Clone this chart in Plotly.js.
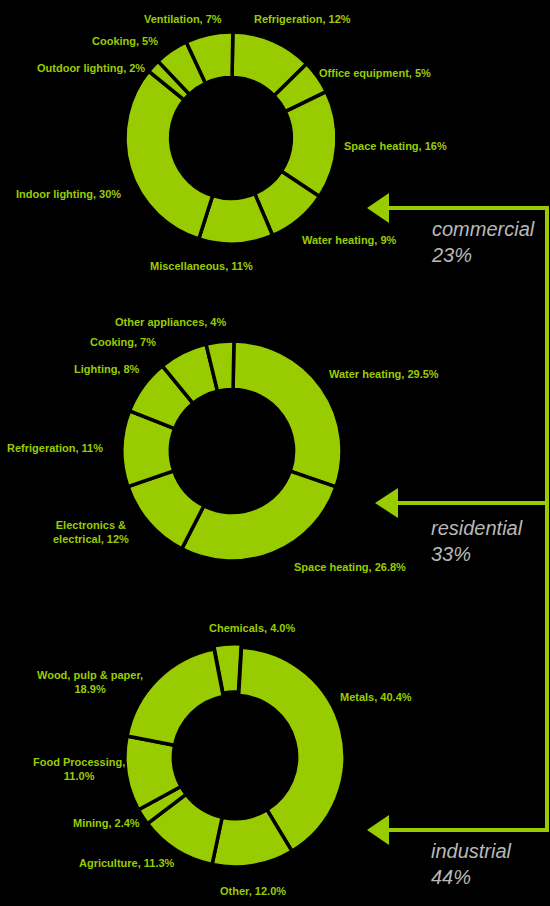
<!DOCTYPE html>
<html>
<head>
<meta charset="utf-8">
<script src="https://cdn.plot.ly/plotly-3.0.1.min.js"></script>
<style>html,body{margin:0;padding:0;background:#000;}#chart{width:550px;height:906px;}</style>
</head>
<body>
<div id="chart"></div>
<script>
// ---------- DATA ----------
const commercialLabels = ['Refrigeration', 'Office equipment', 'Space heating', 'Water heating', 'Miscellaneous', 'Indoor lighting', 'Outdoor lighting', 'Cooking', 'Ventilation'];
const commercialValues = [12, 5, 16, 9, 11, 30, 2, 5, 7];

const residentialLabels = ['Water heating', 'Space heating', 'Electronics & electrical', 'Refrigeration', 'Lighting', 'Cooking', 'Other appliances'];
const residentialValues = [29.5, 26.8, 12, 11, 8, 7, 4];

const industrialLabels = ['Chemicals', 'Metals', 'Other', 'Agriculture', 'Mining', 'Food Processing', 'Wood, pulp & paper'];
const industrialValues = [4.0, 40.4, 12.0, 11.3, 2.4, 11.0, 18.9];

const sectorNames = ['commercial', 'residential', 'industrial'];
const sectorShares = [23, 33, 44];

// ---------- LAYOUT HELPERS ----------
const W = 550, H = 906;
const fx = x => x / W;
const fy = y => 1 - y / H;
const GREEN = '#99cc00';
const LABEL_FONT = {family: 'Liberation Sans, Arial, sans-serif', size: 11, color: GREEN, weight: 'bold'};

function fmt(v, dec) { return v.toFixed(dec) + '%'; }

// label placement (pixel positions), one entry per slice in data order
const commercialPos = [
  {x: 252, y: 19, a: 'left'}, {x: 317, y: 73, a: 'left'}, {x: 342, y: 146, a: 'left'},
  {x: 300, y: 240, a: 'left'}, {x: 148, y: 266, a: 'left'}, {x: 14, y: 194, a: 'left'},
  {x: 147, y: 68, a: 'right'}, {x: 160, y: 41, a: 'right'}, {x: 224, y: 19, a: 'right'}
];
const residentialPos = [
  {x: 327, y: 374, a: 'left'}, {x: 292, y: 567, a: 'left'}, {x: 91, y: 532, a: 'center', br: ' electrical'},
  {x: 5, y: 448, a: 'left'}, {x: 142, y: 369, a: 'right'}, {x: 158, y: 342, a: 'right'}, {x: 228, y: 322, a: 'right'}
];
const industrialPos = [
  {x: 252, y: 628, a: 'center'}, {x: 338, y: 697, a: 'left'}, {x: 253, y: 891, a: 'center'},
  {x: 127, y: 863, a: 'center'}, {x: 142, y: 823, a: 'right'}, {x: 79, y: 769, a: 'center', brv: true},
  {x: 90, y: 682, a: 'center', brv: true}
];

function labelAnnotations(labels, values, pos, dec) {
  return labels.map((l, i) => {
    const p = pos[i];
    let name = l;
    if (p.br) name = l.replace(p.br, '<br>' + p.br.trim());
    const text = name + ',' + (p.brv ? '<br>' : ' ') + fmt(values[i], dec);
    return {
      xref: 'paper', yref: 'paper', x: fx(p.x), y: fy(p.y),
      xanchor: p.a, yanchor: 'middle', align: 'center',
      text: text, showarrow: false, font: LABEL_FONT
    };
  });
}

function pieTrace(labels, values, cx, cy, r, hole, rotation, pull) {
  const k = 1 + (pull ? Math.max(...pull) : 0);
  const rr = r * k;
  return {
    type: 'pie', labels: labels, values: values, sort: false,
    direction: 'clockwise', rotation: rotation, hole: hole,
    textinfo: 'none', hoverinfo: 'label+percent',
    pull: pull || 0,
    marker: {colors: labels.map(() => GREEN), line: {color: '#000', width: 3.5}},
    domain: {x: [fx(cx - rr), fx(cx + rr)], y: [fy(cy + rr), fy(cy - rr)]},
    showlegend: false
  };
}

const traces = [
  pieTrace(commercialLabels, commercialValues, 231, 138, 106, 0.57, 1),
  pieTrace(residentialLabels, residentialValues, 232, 451, 110, 0.56, 1),
  pieTrace(industrialLabels, industrialValues, 235, 757, 110, 0.56, -11, industrialValues.map((v, i) => i === 0 ? 0.03 : 0))
];

// connector lines and arrows
const arrowRows = [
  {y: 208, tip: 367, base: 389, h: 15},
  {y: 503, tip: 375, base: 398, h: 15},
  {y: 830, tip: 367, base: 389, h: 15}
];
const vx = 547;
const shapes = [];
arrowRows.forEach(r => {
  shapes.push({type: 'line', xref: 'paper', yref: 'paper', x0: fx(r.base - 2), x1: fx(vx), y0: fy(r.y), y1: fy(r.y), line: {color: GREEN, width: 4}});
  shapes.push({type: 'path', xref: 'paper', yref: 'paper',
    path: `M ${fx(r.tip)} ${fy(r.y)} L ${fx(r.base)} ${fy(r.y - r.h)} L ${fx(r.base)} ${fy(r.y + r.h)} Z`,
    fillcolor: GREEN, line: {color: GREEN, width: 0}});
});
shapes.push({type: 'line', xref: 'paper', yref: 'paper', x0: fx(vx), x1: fx(vx), y0: fy(arrowRows[0].y - 2), y1: fy(arrowRows[2].y + 2), line: {color: GREEN, width: 4}});

const sectorTextY = [242, 541, 864];
const sectorAnn = sectorNames.map((s, i) => ({
  xref: 'paper', yref: 'paper', x: fx(429), y: fy(sectorTextY[i]), xanchor: 'left', yanchor: 'middle', align: 'left',
  text: s + '<br>' + sectorShares[i] + '%', showarrow: false,
  font: {family: 'Liberation Sans, Arial, sans-serif', size: 20, color: '#b8b8b8', style: 'italic'}
}));

const annotations = [].concat(
  labelAnnotations(commercialLabels, commercialValues, commercialPos, 0),
  labelAnnotations(residentialLabels, residentialValues, residentialPos, 1).map((a, i) => {
    // residential integers shown without decimals
    const v = residentialValues[i];
    if (Number.isInteger(v)) a.text = a.text.replace(fmt(v, 1), fmt(v, 0));
    return a;
  }),
  labelAnnotations(industrialLabels, industrialValues, industrialPos, 1),
  sectorAnn
);

const layout = {
  width: W, height: H,
  paper_bgcolor: '#000', plot_bgcolor: '#000',
  margin: {l: 0, r: 0, t: 0, b: 0},
  showlegend: false,
  shapes: shapes,
  annotations: annotations
};

Plotly.newPlot('chart', traces, layout, {displayModeBar: false, staticPlot: true});
</script>
</body>
</html>
